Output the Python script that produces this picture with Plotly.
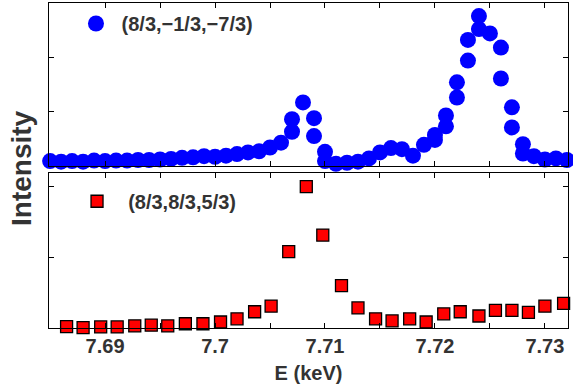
import plotly.graph_objects as go

# ---- data ----
E_top = [7.685, 7.686, 7.687, 7.688, 7.689, 7.690, 7.691, 7.692, 7.693, 7.694,
         7.695, 7.696, 7.697, 7.698, 7.699, 7.700, 7.701, 7.702, 7.703, 7.704,
         7.705, 7.706, 7.707, 7.707, 7.708, 7.709, 7.709, 7.710, 7.710, 7.711,
         7.712, 7.713, 7.714, 7.715, 7.716, 7.717, 7.718, 7.719, 7.720, 7.720,
         7.721, 7.721, 7.722, 7.722, 7.723, 7.723, 7.724, 7.724, 7.725, 7.726,
         7.726, 7.727, 7.727, 7.728, 7.728, 7.729, 7.730, 7.731, 7.732]
I_top = [0.09, 0.08, 0.09, 0.08, 0.10, 0.09, 0.10, 0.10, 0.11, 0.11,
         0.12, 0.13, 0.15, 0.16, 0.18, 0.17, 0.19, 0.22, 0.25, 0.27,
         0.34, 0.43, 0.63, 0.86, 1.17, 0.88, 0.55, 0.26, 0.09, 0.04,
         0.06, 0.08, 0.14, 0.25, 0.33, 0.31, 0.19, 0.39, 0.57, 0.48,
         0.93, 0.73, 1.54, 1.26, 2.32, 1.94, 2.76, 2.52, 2.44, 2.18,
         1.61, 1.08, 0.71, 0.40, 0.23, 0.18, 0.12, 0.14, 0.11]

E_bot = [7.6865, 7.6880, 7.6896, 7.6911, 7.6927, 7.6942, 7.6957, 7.6973, 7.6989, 7.7005,
         7.7020, 7.7036, 7.7051, 7.7067, 7.7083, 7.7098, 7.7115, 7.7130, 7.7146, 7.7161,
         7.7177, 7.7192, 7.7208, 7.7223, 7.7240, 7.7255, 7.7270, 7.7285, 7.7300, 7.7317]
I_bot = [0.02, 0.005, 0.015, 0.015, 0.03, 0.04, 0.03, 0.06, 0.06, 0.085,
         0.13, 0.23, 0.31, 1.08, 2.00, 1.315, 0.60, 0.284, 0.13, 0.10,
         0.13, 0.085, 0.20, 0.23, 0.17, 0.25, 0.25, 0.22, 0.31, 0.35]

label_top = "(8/3,\u22121/3,\u22127/3)"
label_bot = "(8/3,8/3,5/3)"

x_tickvals = [7.69, 7.695, 7.70, 7.705, 7.71, 7.715, 7.72, 7.725, 7.73]
x_ticktext = ["7.69", "", "7.7", "", "7.71", "", "7.72", "", "7.73"]
x_range = [7.6849, 7.7321]

FONT = "Liberation Sans"
TXT = "#333333"

fig = go.Figure()
fig.add_trace(go.Scatter(
    x=E_top, y=I_top, mode="markers", name="\u00a0" + label_top, showlegend=True,
    marker=dict(symbol="circle", size=16, color="#0000FF", line=dict(width=0)),
    cliponaxis=False, xaxis="x", yaxis="y", legend="legend"))
fig.add_trace(go.Scatter(
    x=E_bot, y=I_bot, mode="markers", name="\u00a0\u00a0" + label_bot, showlegend=True,
    marker=dict(symbol="square", size=12, color="#FF0000", line=dict(width=1.3, color="black")),
    cliponaxis=False, xaxis="x2", yaxis="y2", legend="legend2"))

axis_common = dict(showline=True, linecolor="black", linewidth=1, mirror="ticks",
                   ticks="inside", ticklen=5, tickcolor="black", tickwidth=1,
                   showgrid=False, zeroline=False)

fig.update_layout(
    width=573, height=385,
    margin=dict(l=49, r=5, t=3, b=57),
    paper_bgcolor="white", plot_bgcolor="white",
    showlegend=True,
    font=dict(family=FONT, color=TXT),
    xaxis=dict(domain=[0, 1], range=x_range, anchor="y", tickmode="array",
               tickvals=x_tickvals, showticklabels=False, **axis_common),
    yaxis=dict(domain=[0.4985, 1], range=[0, 3], anchor="x", tickmode="array",
               tickvals=[0, 1, 2, 3], showticklabels=False, **axis_common),
    xaxis2=dict(domain=[0, 1], range=x_range, anchor="y2", tickmode="array",
                tickvals=x_tickvals, ticktext=x_ticktext,
                tickfont=dict(size=20, family=FONT, color=TXT, weight="bold"),
                title=dict(text="E (keV)", standoff=9,
                           font=dict(size=20, family=FONT, color=TXT, weight="bold")),
                **axis_common),
    yaxis2=dict(domain=[0, 0.4769], range=[0, 2.194], anchor="x2", tickmode="array",
                tickvals=[0, 1, 2], showticklabels=False, **axis_common),
    legend=dict(visible=True, x=0.052, y=0.997, xanchor="left", yanchor="top",
                bgcolor="rgba(0,0,0,0)", borderwidth=0,
                font=dict(size=20, family=FONT, color=TXT, weight="bold")),
    legend2=dict(visible=True, x=0.054, y=0.450, xanchor="left", yanchor="top",
                 bgcolor="rgba(0,0,0,0)", borderwidth=0,
                 font=dict(size=20, family=FONT, color=TXT, weight="bold")),
    annotations=[dict(text="Intensity", xref="paper", yref="paper",
                      x=(21 - 49) / 519, y=(328 - 168) / 325, xanchor="center", yanchor="middle",
                      textangle=-90, showarrow=False,
                      font=dict(size=28, family=FONT, color=TXT, weight="bold"))],
)

fig.write_html("out.html", config={"displayModeBar": False},
               post_script="document.body.style.margin='0px';document.body.style.overflow='hidden';")
